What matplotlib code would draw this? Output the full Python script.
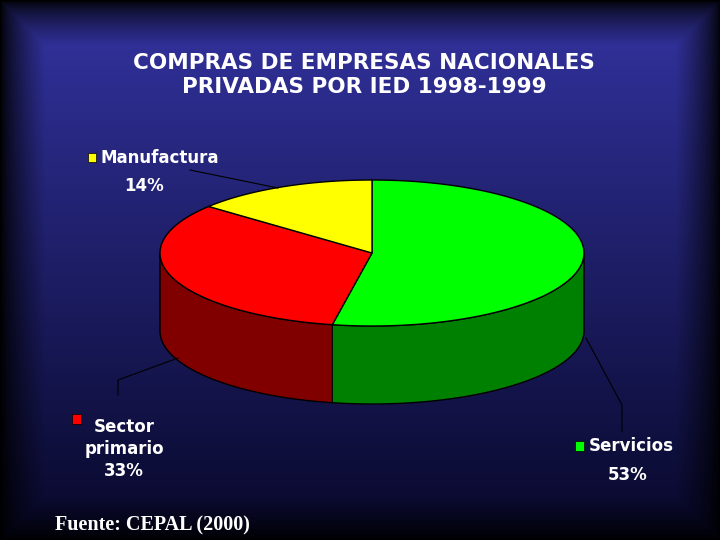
import matplotlib.pyplot as plt
import numpy as np
from matplotlib.patches import Polygon, Rectangle

categories = ['Servicios', 'Sector\nprimario', 'Manufactura']
values = [53, 33, 14]
top_colors = ['#00ff00', '#ff0000', '#ffff00']
side_colors = ['#008000', '#800000', '#808000']

fig = plt.figure(figsize=(7.2, 5.4), dpi=100)
ax = fig.add_axes([0, 0, 1, 1])
ax.set_xlim(0, 720)
ax.set_ylim(540, 0)
ax.axis('off')

# Background: blue gradient with dark vignette.
yy, xx = np.mgrid[0:540, 0:720]
v = np.clip(1.0 - yy / 540.0 * 0.85, 0, 1)
ex = np.minimum(np.minimum(xx, 720 - xx), np.minimum(yy, 540 - yy))
vig = np.clip(ex / 45.0, 0, 1) ** 0.7
r = 0.20 * v * vig
g = 0.20 * v * vig
b = (0.08 + 0.55 * v) * vig
ax.imshow(np.dstack([r, g, b]), extent=[0, 720, 540, 0], zorder=0)

# Pie geometry (pixel units).
cx, cy, rx, ry, depth = 372, 253, 212, 73, 78


def pt(t, dy=0):
    return cx + rx * np.cos(t), cy - ry * np.sin(t) + dy


fracs = np.array(values) / sum(values)
start = np.pi / 2
bounds = []
for f in fracs:
    end = start - f * 2 * np.pi
    bounds.append((start, end))
    start = end

# Side walls (front half only).
for (a0, a1), sc in zip(bounds, side_colors):
    lo, hi = min(a0, a1), max(a0, a1)
    segs = []
    for off in (-2 * np.pi, 0, 2 * np.pi):
        s0, s1 = max(lo + off, -np.pi), min(hi + off, 0)
        if s1 > s0:
            segs.append((s0, s1))
    for s0, s1 in segs:
        t = np.linspace(s0, s1, 80)
        x, y = pt(t)
        xs = np.concatenate([x, x[::-1]])
        ys = np.concatenate([y, (y + depth)[::-1]])
        ax.add_patch(Polygon(np.c_[xs, ys], closed=True, fc=sc, ec='black', lw=1, zorder=2))

# Top faces.
for (a0, a1), tc in zip(bounds, top_colors):
    t = np.linspace(a0, a1, 120)
    x, y = pt(t)
    xs = np.concatenate([[cx], x])
    ys = np.concatenate([[cy], y])
    ax.add_patch(Polygon(np.c_[xs, ys], closed=True, fc=tc, ec='black', lw=1, zorder=3))

# Title.
ax.text(364, 75, 'COMPRAS DE EMPRESAS NACIONALES\nPRIVADAS POR IED 1998-1999', color='white',
        fontsize=15.5, fontweight='bold', ha='center', va='center', linespacing=1.25,
        family='DejaVu Sans', zorder=5)

# Labels and leader lines.
lab_font = dict(color='white', fontsize=12, fontweight='bold', family='DejaVu Sans', zorder=5)
ax.plot([190, 278], [170, 188], color='black', lw=0.8, zorder=4)
ax.add_patch(Rectangle((88, 153), 8, 9, fc=top_colors[2], ec='black', lw=0.5, zorder=5))
ax.text(100, 158, 'Manufactura', va='center', ha='left', **lab_font)
ax.text(144, 186, f'{values[2]}%', va='center', ha='center', **lab_font)

ax.plot([118, 118, 178], [395, 380, 358], color='black', lw=0.8, zorder=4)
ax.add_patch(Rectangle((72, 414), 9, 10, fc=top_colors[1], ec='black', lw=0.5, zorder=5))
ax.text(124, 449, f'Sector\nprimario\n{values[1]}%', va='center', ha='center', linespacing=1.3, **lab_font)

ax.plot([586, 622, 622], [338, 405, 432], color='black', lw=0.8, zorder=4)
ax.add_patch(Rectangle((575, 441), 9, 10, fc=top_colors[0], ec='black', lw=0.5, zorder=5))
ax.text(589, 446, 'Servicios', va='center', ha='left', **lab_font)
ax.text(628, 475, f'{values[0]}%', va='center', ha='center', **lab_font)

ax.text(55, 525, 'Fuente: CEPAL (2000)', color='white', fontsize=14.5, fontweight='bold',
        family='Liberation Serif', va='center', ha='left', zorder=5)

fig.savefig('out.png', dpi=100)
